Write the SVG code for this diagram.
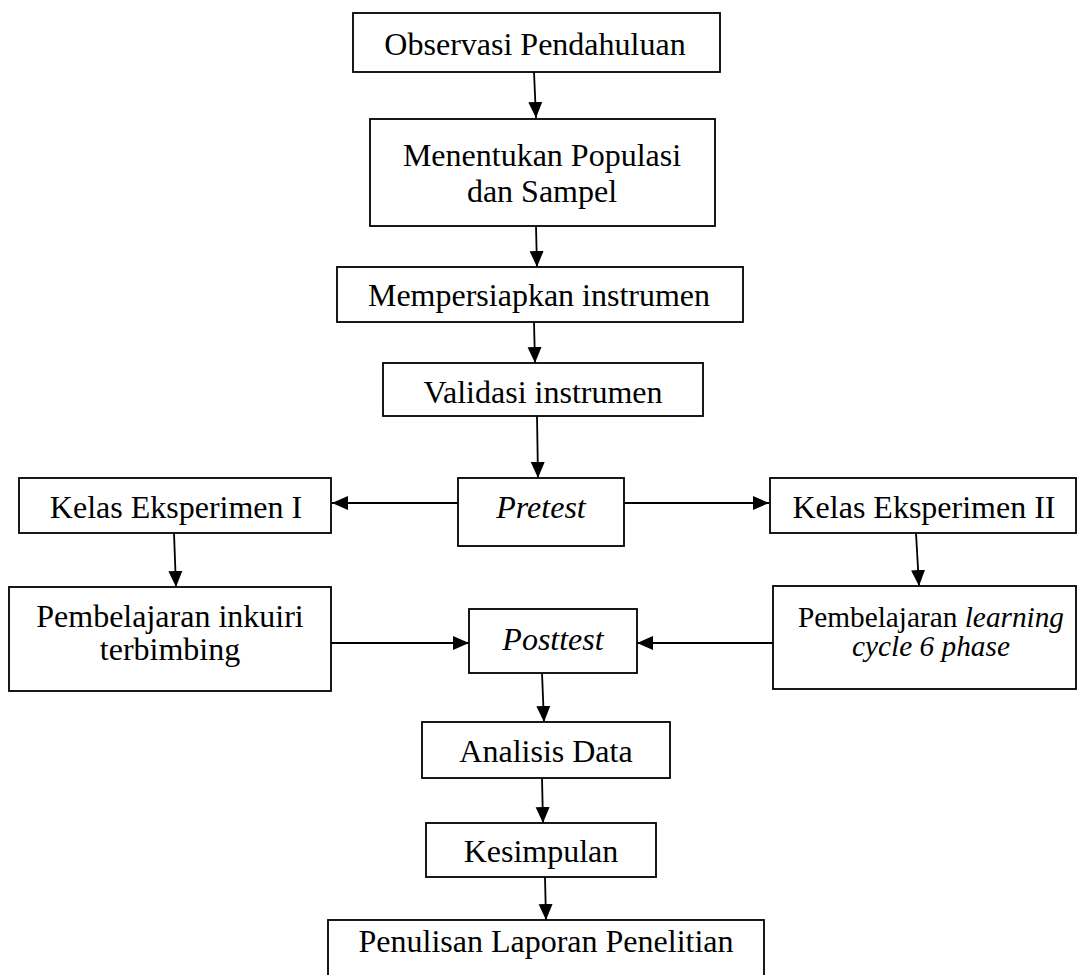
<svg xmlns="http://www.w3.org/2000/svg" width="1078" height="975" viewBox="0 0 1078 975">
<defs>
<style>
.box{fill:#fff;stroke:#000;stroke-width:1.8}
.t{font-family:"Liberation Serif","Times New Roman",serif;font-size:32px;fill:#000;text-anchor:middle}
.s{font-size:29.3px}
.i{font-style:italic}
.c{stroke:#000;stroke-width:1.8;fill:none;marker-end:url(#ah)}
</style>
<marker id="ah" markerUnits="userSpaceOnUse" markerWidth="18" markerHeight="18" viewBox="0 0 18 18" refX="16" refY="9" orient="auto">
<path d="M0,2 L16,9 L0,16 Z" fill="#000"/>
</marker>
</defs>
<rect width="1078" height="975" fill="#fff"/>
<g id="connectors">
<line class="c" x1="534" y1="72" x2="536" y2="118"/>
<line class="c" x1="536" y1="226" x2="537" y2="267"/>
<line class="c" x1="534" y1="322" x2="535" y2="363"/>
<line class="c" x1="537" y1="416" x2="538" y2="478"/>
<line class="c" x1="458" y1="503" x2="332" y2="503"/>
<line class="c" x1="624" y1="503" x2="769" y2="503"/>
<line class="c" x1="174" y1="533" x2="176" y2="587"/>
<line class="c" x1="916" y1="533" x2="919" y2="586"/>
<line class="c" x1="331" y1="643" x2="469" y2="643"/>
<line class="c" x1="773" y1="643" x2="637" y2="643"/>
<line class="c" x1="542" y1="673" x2="544" y2="722"/>
<line class="c" x1="542" y1="778" x2="543" y2="823"/>
<line class="c" x1="545" y1="877" x2="546" y2="920"/>
</g>
<g id="observasi"><rect class="box" x="353" y="13" width="367" height="59"/><text class="t" x="535" y="55">Observasi Pendahuluan</text></g>
<g id="populasi"><rect class="box" x="370" y="119" width="345" height="107"/><text class="t" x="542" y="166">Menentukan Populasi</text><text class="t" x="542" y="202">dan Sampel</text></g>
<g id="mempersiapkan"><rect class="box" x="337" y="267" width="406" height="55"/><text class="t" x="539" y="306">Mempersiapkan instrumen</text></g>
<g id="validasi"><rect class="box" x="383" y="363" width="320" height="53"/><text class="t" x="543" y="403">Validasi instrumen</text></g>
<g id="pretest"><rect class="box" x="458" y="478" width="166" height="68"/><text class="t i" x="541" y="518">Pretest</text></g>
<g id="kelas1"><rect class="box" x="19" y="478" width="312" height="55"/><text class="t" x="176" y="518">Kelas Eksperimen I</text></g>
<g id="kelas2"><rect class="box" x="770" y="478" width="306" height="55"/><text class="t" x="924" y="518">Kelas Eksperimen II</text></g>
<g id="inkuiri"><rect class="box" x="9" y="587" width="322" height="104"/><text class="t" x="170" y="627">Pembelajaran inkuiri</text><text class="t" x="170" y="660">terbimbing</text></g>
<g id="posttest"><rect class="box" x="469" y="609" width="168" height="64"/><text class="t i" x="553" y="650">Posttest</text></g>
<g id="learningcycle"><rect class="box" x="773" y="586" width="303" height="103"/><text class="t s" x="931" y="627">Pembelajaran <tspan class="i">learning</tspan></text><text class="t s i" x="931" y="656">cycle 6 phase</text></g>
<g id="analisis"><rect class="box" x="422" y="722" width="248" height="56"/><text class="t" x="546" y="762">Analisis Data</text></g>
<g id="kesimpulan"><rect class="box" x="426" y="823" width="230" height="54"/><text class="t" x="541" y="862">Kesimpulan</text></g>
<g id="penulisan"><rect class="box" x="328" y="920" width="436" height="70"/><text class="t" x="546" y="952">Penulisan Laporan Penelitian</text></g>
</svg>
